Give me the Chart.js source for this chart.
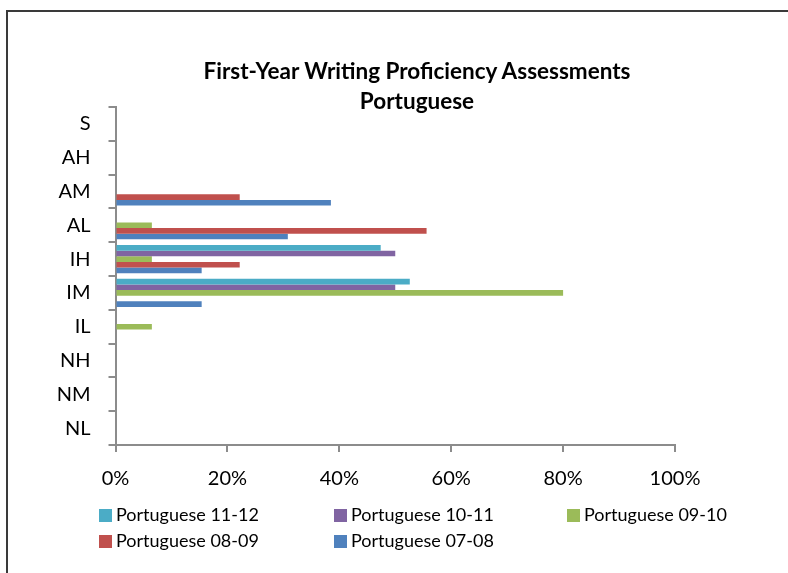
<!DOCTYPE html>
<html>
<head>
<meta charset="utf-8">
<script src="https://cdn.jsdelivr.net/npm/chart.js@4.4.0/dist/chart.umd.min.js"></script>
<style>
  html,body{margin:0;padding:0;background:#fff;overflow:hidden;width:788px;height:573px;font-family:Lato,sans-serif;}
  #frame{position:absolute;left:6px;top:10px;width:830px;height:600px;border:2px solid #3a3a3a;}
  #frame canvas{position:absolute;left:0;top:0;}
  .title{position:absolute;left:0;width:834px;text-align:center;font-weight:bold;font-size:22.5px;line-height:27px;color:#000;}
  .leg{position:absolute;font-size:18px;color:#000;white-space:nowrap;line-height:18px;}
  .leg i{display:inline-block;width:13px;height:13px;margin-right:4px;vertical-align:-1px;}
</style>
</head>
<body>
<div id="frame"><canvas id="chart" width="830" height="600"></canvas></div>
<div class="title" style="top:57px">First-Year Writing Proficiency Assessments</div>
<div class="title" style="top:87px">Portuguese</div>
<div id="legend"></div>
<script>
// proficiency levels, top to bottom
const levels = ['S','AH','AM','AL','IH','IM','IL','NH','NM','NL'];
const xTicks = [0,20,40,60,80,100];

// percent of students per level
const p1112 = [0,0,0,0,47.4,52.6,0,0,0,0];
const p1011 = [0,0,0,0,50,50,0,0,0,0];
const p0910 = [0,0,0,6.5,6.5,80,6.5,0,0,0];
const p0809 = [0,0,22.2,55.6,22.2,0,0,0,0,0];
const p0708 = [0,0,38.5,30.8,15.4,15.4,0,0,0,0];

const series = [
  {label:'Portuguese 11-12', data:p1112, color:'#4BACC6'},
  {label:'Portuguese 10-11', data:p1011, color:'#8064A2'},
  {label:'Portuguese 09-10', data:p0910, color:'#9BBB59'},
  {label:'Portuguese 08-09', data:p0809, color:'#C0504D'},
  {label:'Portuguese 07-08', data:p0708, color:'#4F81BD'}
];

const axisColor = '#8c8c8c';

new Chart(document.getElementById('chart'), {
  type:'bar',
  data:{
    labels: levels,
    datasets: series.map(s=>({label:s.label, data:s.data, backgroundColor:s.color, borderWidth:0, categoryPercentage:0.83, barPercentage:1}))
  },
  options:{
    responsive:false,
    animation:false,
    indexAxis:'y',
    layout:{padding:{top:95, left:47.5, right:163, bottom:127}},
    plugins:{legend:{display:false}, title:{display:false}, tooltip:{enabled:false}},
    scales:{
      x:{
        min:0, max:100,
        afterBuildTicks: sc=>{ sc.ticks = xTicks.map(v=>({value:v})); },
        afterFit: sc=>{ sc.height = 40; },
        ticks:{callback:v=>v+'%', color:'#000', font:{family:'Lato', size:20}, padding:15, maxRotation:0},
        grid:{drawOnChartArea:false, drawTicks:true, tickLength:7, color:axisColor, lineWidth:2},
        border:{color:axisColor, width:2}
      },
      y:{
        afterFit: sc=>{ sc.width = 60; },
        ticks:{color:'#000', font:{family:'Lato', size:20}, padding:18},
        grid:{drawOnChartArea:false, drawTicks:true, tickLength:7, color:axisColor, lineWidth:2},
        border:{color:axisColor, width:2}
      }
    }
  }
});

// legend laid out in three columns like the original
const legCols = [99,334,567];
const legRows = [505,531];
const legend = document.getElementById('legend');
series.forEach((s,i)=>{
  const d = document.createElement('div');
  d.className = 'leg';
  d.style.left = legCols[i%3]+'px';
  d.style.top = legRows[Math.floor(i/3)]+'px';
  d.innerHTML = `<i style="background:${s.color}"></i>${s.label}`;
  legend.appendChild(d);
});
</script>
</body>
</html>
